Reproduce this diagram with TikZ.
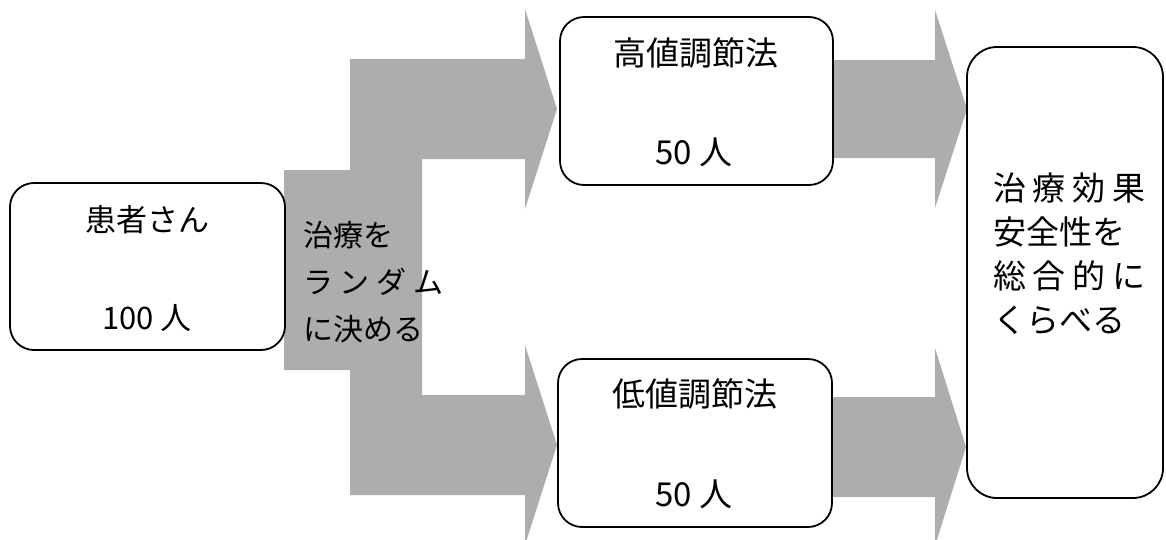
\documentclass[tikz,border=0pt]{standalone}
\usepackage{fontspec}
\setmainfont{Noto Sans CJK JP}
\definecolor{dither}{gray}{0.68}
\begin{document}
\begin{tikzpicture}[x=1pt,y=-1pt,
  box/.style={draw=black, line width=1.8pt, fill=white, rounded corners=24pt, inner sep=0pt},
  flow/.style={fill=dither, draw=none},
  lbl/.style={inner sep=0pt, text=black},
  big/.style={font=\fontsize{33}{33}\selectfont},
  mid/.style={font=\fontsize{31}{31}\selectfont}]
\useasboundingbox (0,0) rectangle (1166,539);
% branching block arrow (randomisation)
\path[flow] (284,170) -- (350,170) -- (350,59) -- (525,59) -- (525,9) -- (557,109)
  -- (525,209) -- (525,159) -- (422,159) -- (422,395) -- (525,395) -- (525,345)
  -- (557,445) -- (525,545) -- (525,495) -- (350,495) -- (350,370) -- (284,370) -- cycle;
% block arrows to the comparison box
\path[flow] (833,60) -- (935,60) -- (935,10) -- (967,109) -- (935,208) -- (935,158) -- (833,158) -- cycle;
\path[flow] (832,397) -- (935,397) -- (935,348) -- (966,447) -- (935,546) -- (935,497) -- (832,497) -- cycle;
% boxes
\node[box, minimum width=275pt, minimum height=167pt] (patient) at (147.5,266.5) {};
\node[box, minimum width=273pt, minimum height=168pt] (high) at (696.5,101) {};
\node[box, minimum width=274pt, minimum height=168pt] (low) at (695,443) {};
\node[box, rounded corners=30pt, minimum width=196pt, minimum height=451pt] (result) at (1065,272.5) {};
% texts
\node[lbl, mid] (ptitle) at (147,220) {患者さん};
\node[lbl, mid] (pnum) at (147,318) {100 人};
\node[lbl, big] (htitle) at (696,53) {高値調節法};
\node[lbl, big] (hnum) at (694,152) {50 人};
\node[lbl, big] (ltitle) at (695,394) {低値調節法};
\node[lbl, big] (lnum) at (694,494) {50 人};
\node[lbl, anchor=west, align=left, font=\fontsize{30}{47}\selectfont] (rand) at (303,282)
  {治療を\\\makebox[140pt][s]{ラ\hfill ン\hfill ダ\hfill ム}\\に決める};
\node[lbl, anchor=west, align=left, font=\fontsize{33}{44}\selectfont] (compare) at (993,254)
  {\makebox[152pt][s]{治\hfill 療\hfill 効\hfill 果}\\安全性を\\\makebox[152pt][s]{総\hfill 合\hfill 的\hfill に}\\くらべる};
\end{tikzpicture}
\end{document}
